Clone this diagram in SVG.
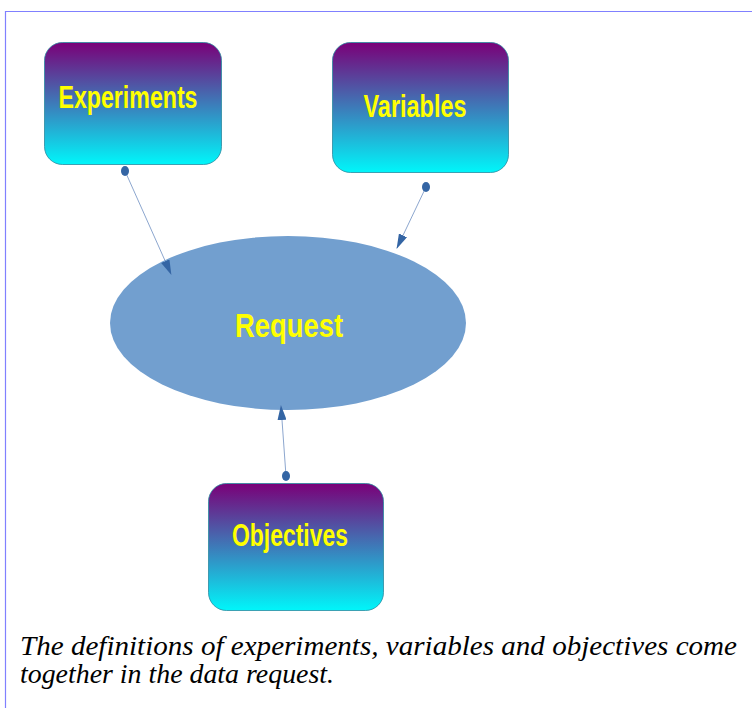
<svg xmlns="http://www.w3.org/2000/svg" width="752" height="708" viewBox="0 0 752 708">
  <defs>
    <linearGradient id="boxFill" x1="0" y1="0" x2="0" y2="1">
      <stop offset="0" stop-color="#7a0078"/>
      <stop offset="1" stop-color="#00f6fa"/>
    </linearGradient>
    <marker id="arrow" viewBox="0 0 15 9" refX="14" refY="4.5" markerWidth="15" markerHeight="9" markerUnits="userSpaceOnUse" orient="auto">
      <path d="M0,0 L15,4.5 L0,9 Z" fill="#3465a4"/>
    </marker>
    <style>
      .box { fill: url(#boxFill); stroke: #2a8aa0; stroke-width: 0.8; }
      .label { font-family: "Liberation Sans", Arial, sans-serif; font-weight: bold; fill: #ffff00; text-anchor: middle; }
      .edge { stroke: #7f9cc8; stroke-width: 0.9; fill: none; marker-end: url(#arrow); }
      .dot { fill: #3465a4; }
      .caption { font-family: "Liberation Serif", "Times New Roman", serif; font-style: italic; font-size: 28px; fill: #000; }
    </style>
  </defs>

  <rect width="752" height="708" fill="#ffffff"/>
  <!-- page frame -->
  <path d="M5.5,708 V11.5 H752" fill="none" stroke="#8080ff" stroke-width="1.2"/>

  <g id="request">
    <ellipse cx="288" cy="323" rx="178" ry="87" fill="#729fcf"/>
    <text class="label" x="289" y="337" font-size="34" textLength="108" lengthAdjust="spacingAndGlyphs">Request</text>
  </g>

  <g id="connectors">
    <line class="edge" x1="125" y1="171" x2="171" y2="274"/>
    <ellipse class="dot" cx="125" cy="171" rx="4" ry="5"/>
    <line class="edge" x1="426" y1="187" x2="397" y2="248"/>
    <ellipse class="dot" cx="426" cy="187" rx="4" ry="5"/>
    <line class="edge" x1="286" y1="476" x2="281" y2="406"/>
    <ellipse class="dot" cx="286" cy="476" rx="4" ry="5"/>
  </g>

  <g id="experiments">
    <rect class="box" x="44.5" y="42.5" width="177" height="122" rx="18"/>
    <text class="label" x="128" y="108" font-size="31" textLength="139" lengthAdjust="spacingAndGlyphs">Experiments</text>
  </g>

  <g id="variables">
    <rect class="box" x="332.5" y="42.5" width="176" height="130" rx="18"/>
    <text class="label" x="415" y="117" font-size="31" textLength="103" lengthAdjust="spacingAndGlyphs">Variables</text>
  </g>

  <g id="objectives">
    <rect class="box" x="208.5" y="483.5" width="175" height="127" rx="18"/>
    <text class="label" x="290" y="546" font-size="31" textLength="116" lengthAdjust="spacingAndGlyphs">Objectives</text>
  </g>

  <g id="caption">
    <text class="caption" x="20" y="655" textLength="717" lengthAdjust="spacingAndGlyphs">The definitions of experiments, variables and objectives come</text>
    <text class="caption" x="20" y="683" textLength="314" lengthAdjust="spacingAndGlyphs">together in the data request.</text>
  </g>
</svg>
